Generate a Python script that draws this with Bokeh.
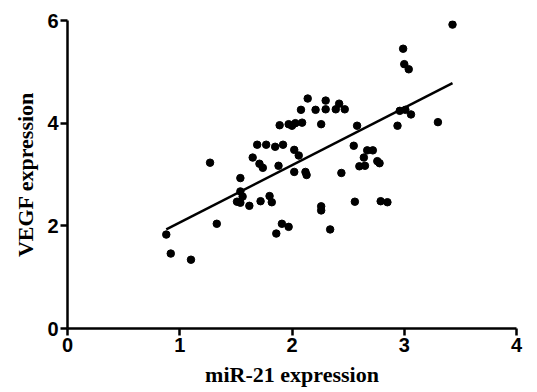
from bokeh.plotting import figure
from bokeh.models import Range1d, FixedTicker
from bokeh.embed import file_html
from bokeh.resources import INLINE
import numpy as np

# miR-21 expression (x) and VEGF expression (y)
mir21 = [3.43, 2.99, 3.00, 3.04, 2.42, 2.39, 2.47, 2.96, 3.01, 3.06,
         3.30, 2.58, 2.94, 2.55, 2.67, 2.72, 2.64, 2.76, 2.78, 2.60,
         2.65, 2.44, 2.56, 2.79, 2.85, 2.14, 2.30, 2.08, 2.21, 2.30,
         1.89, 1.97, 2.00, 2.03, 2.09, 2.26, 1.69, 1.77, 1.85, 1.92,
         2.02, 1.65, 2.06, 1.71, 1.74, 1.88, 1.27, 2.02, 2.12, 2.13,
         1.54, 1.54, 1.56, 1.51, 1.54, 1.62, 1.72, 1.80, 1.82, 1.33,
         1.91, 1.97, 1.86, 2.26, 2.26, 2.34, 0.88, 0.92, 1.10]
vegf = [5.92, 5.45, 5.15, 5.05, 4.38, 4.27, 4.27, 4.24, 4.26, 4.17,
        4.02, 3.95, 3.95, 3.56, 3.47, 3.47, 3.33, 3.26, 3.22, 3.16,
        3.17, 3.03, 2.47, 2.48, 2.46, 4.48, 4.44, 4.26, 4.26, 4.27,
        3.96, 3.98, 3.95, 4.00, 4.01, 3.98, 3.58, 3.58, 3.54, 3.58,
        3.48, 3.33, 3.37, 3.21, 3.13, 3.17, 3.23, 3.05, 3.05, 2.99,
        2.93, 2.67, 2.57, 2.47, 2.45, 2.39, 2.48, 2.58, 2.46, 2.04,
        2.04, 1.98, 1.85, 2.38, 2.30, 1.93, 1.83, 1.46, 1.34]

# regression line
fit_slope = 1.117
fit_intercept = 0.947

x_ticks = [0, 1, 2, 3, 4]
y_ticks = [0, 2, 4, 6]

p = figure(width=537, height=392, output_backend="svg", toolbar_location=None,
           x_range=Range1d(0, 4), y_range=Range1d(0, 6),
           min_border_left=67, min_border_right=21, min_border_top=20,
           min_border_bottom=64)
p.outline_line_color = None
p.xgrid.grid_line_color = None
p.ygrid.grid_line_color = None
p.background_fill_color = "white"
p.border_fill_color = "white"

fx = np.array([min(mir21), max(mir21)])
fy = fit_slope * fx + fit_intercept
p.line(fx, fy, line_color="black", line_width=2.5)
p.scatter(mir21, vegf, size=7.5, color="black")

for ax, ticks in ((p.xaxis, x_ticks), (p.yaxis, y_ticks)):
    ax.ticker = FixedTicker(ticks=ticks)
    ax.axis_line_width = 2.5
    ax.axis_line_color = "black"
    ax.major_tick_line_width = 2.5
    ax.major_tick_line_color = "black"
    ax.major_tick_out = 7
    ax.major_tick_in = 0
    ax.minor_tick_line_color = None
    ax.major_label_text_font = "Liberation Sans"
    ax.major_label_text_font_style = "bold"
    ax.major_label_text_font_size = "20px"
    ax.major_label_text_color = "black"
    ax.axis_label_text_font = "Liberation Serif"
    ax.axis_label_text_font_style = "bold"
    ax.axis_label_text_font_size = "22px"
    ax.axis_label_text_color = "black"

p.xaxis.axis_label = "miR-21 expression"
p.yaxis.axis_label = "VEGF expression"
p.xaxis.major_label_standoff = 2
p.yaxis.major_label_standoff = 2
p.xaxis.axis_label_standoff = 7
p.yaxis.axis_label_standoff = 6

open("out.html", "w").write(file_html(p, INLINE))
